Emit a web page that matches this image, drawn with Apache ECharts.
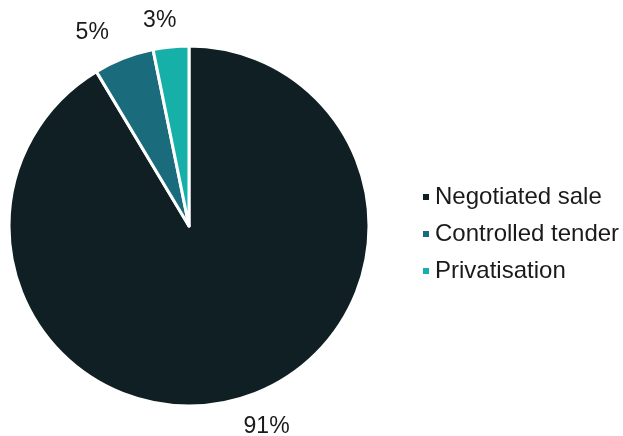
<!DOCTYPE html>
<html>
<head>
<meta charset="utf-8">
<script src="https://cdn.jsdelivr.net/npm/echarts@6/dist/echarts.min.js"></script>
<style>html,body{margin:0;padding:0;background:#fff;}#c{width:623px;height:436px;}</style>
</head>
<body>
<div id="c"></div>
<script>
var categories = ['Negotiated sale', 'Controlled tender', 'Privatisation'];
var values = [91.4, 5.4, 3.2];
var colors = ['#0f1f24', '#1a6b7c', '#17b0a8'];

var labelNudge = [[16, -4], [6, -7], [-3, 6]];

var chart = echarts.init(document.getElementById('c'), null, {renderer: 'canvas'});
chart.setOption({
  animation: false,
  color: colors,
  legend: {
    orient: 'vertical',
    left: 416,
    top: 180,
    icon: 'rect',
    itemWidth: 8,
    itemHeight: 8,
    itemGap: 13,
    textStyle: {fontFamily: 'Liberation Sans, Arial', fontSize: 24, color: '#1a1a1a'},
    data: categories
  },
  series: [{
    type: 'pie',
    center: [189, 226],
    radius: [0, 180],
    startAngle: 90,
    clockwise: true,
    itemStyle: {borderColor: '#ffffff', borderWidth: 3},
    label: {
      show: true,
      position: 'outside',
      fontFamily: 'Liberation Sans, Arial',
      fontSize: 23,
      color: '#1a1a1a',
      formatter: function (p) { return Math.round(p.value) + '%'; }
    },
    labelLine: {show: false, length: 32, length2: 0},
    labelLayout: function (p) {
      var n = labelNudge[p.dataIndex] || [0, 0];
      return {align: 'center', verticalAlign: 'middle', dx: n[0], dy: n[1]};
    },
    data: categories.map(function (c, i) { return {name: c, value: values[i]}; })
  }]
});
</script>
</body>
</html>
